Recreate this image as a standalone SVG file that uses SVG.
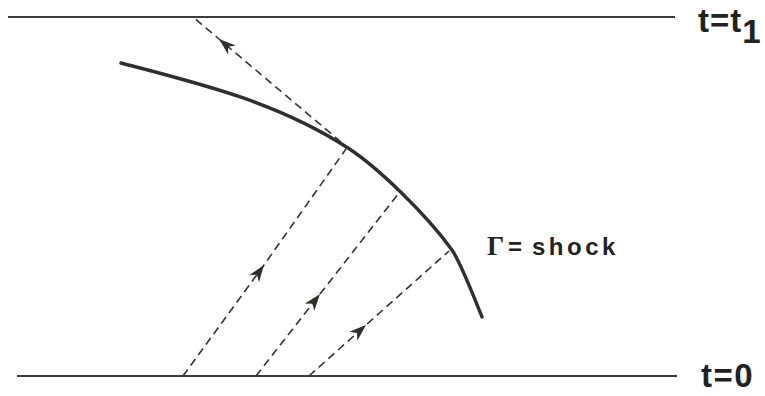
<svg xmlns="http://www.w3.org/2000/svg" width="765" height="396" viewBox="0 0 765 396">
<style>
.hline{stroke:#3c3c38;stroke-width:2;fill:none}
.shock{stroke:#2f2f2c;stroke-width:3.4;fill:none;stroke-linecap:round;stroke-linejoin:round}
.char{stroke:#333330;stroke-width:1.6;fill:none;stroke-dasharray:8 5;marker-mid:url(#arr)}
.lbl{font-family:"Liberation Sans",Arial,sans-serif;font-weight:bold;fill:#222}
</style>
<defs>
<marker id="arr" markerUnits="userSpaceOnUse" markerWidth="22" markerHeight="16" viewBox="-18 -8 22 16" refX="0" refY="0" orient="auto">
<path d="M0,0 L-17,-6 L-12,0 L-17,6 Z" fill="#2f2f2c"/>
</marker>
</defs>
<g id="time-lines">
<line id="t1-line" class="hline" x1="8" y1="17" x2="675" y2="17"/>
<line id="t0-line" class="hline" x1="17" y1="376" x2="677" y2="376"/>
</g>
<g id="shock-curve">
<path class="shock" d="M121,63 C201,83.8 278,102.5 348,148 C378,167.5 427,215 452,250 C460,261.2 475,299.5 482,317"/>
</g>
<g id="connectors">
<polyline class="char" points="183,376 264,265 346,149"/>
<polyline class="char" points="256,376 320,294 399,193"/>
<polyline class="char" points="309,376 366,325 449,251"/>
<polyline class="char" points="341,142 219,39 193,17"/>
</g>
<g id="label-t1">
<text class="lbl" x="698" y="32" font-size="33" letter-spacing="1">t=t<tspan dy="11">1</tspan></text>
</g>
<g id="label-t0">
<text class="lbl" x="701" y="387" font-size="33" letter-spacing="1.5">t=0</text>
</g>
<g id="label-shock">
<text x="487" y="255" font-family="'Liberation Serif','Times New Roman',serif" font-weight="bold" font-size="27" fill="#222">Γ</text>
<text class="lbl" x="508" y="255" font-size="24">=</text>
<text class="lbl" x="532" y="255" font-size="24" letter-spacing="3.5">shock</text>
</g>
</svg>
